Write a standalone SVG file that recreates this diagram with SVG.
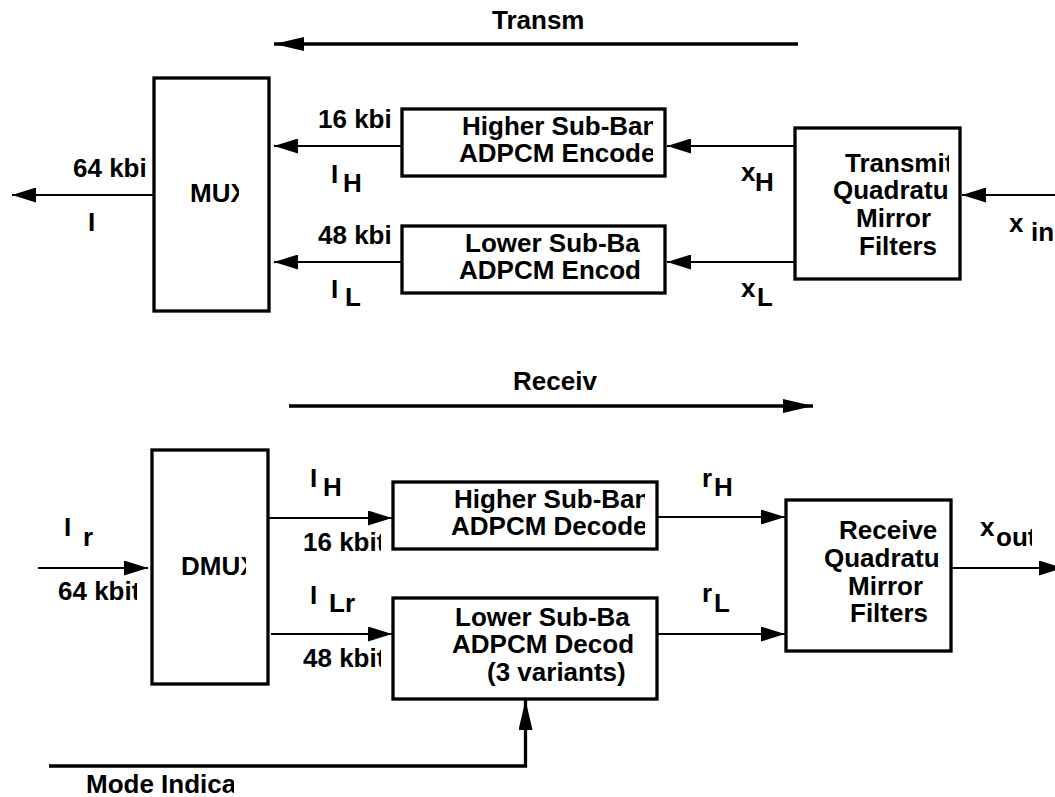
<svg xmlns="http://www.w3.org/2000/svg" width="1055" height="797" viewBox="0 0 1055 797">
<style>
.box{fill:none;stroke:#000;stroke-width:3.3}
.t{font-family:"Liberation Sans",Arial,Helvetica,sans-serif;font-weight:bold;font-size:26px;fill:#000}
.thin{stroke:#000;stroke-width:2;fill:none}
.thick{stroke:#000;stroke-width:3.3;fill:none}
</style>
<defs>
<marker id="ah" markerUnits="userSpaceOnUse" markerWidth="24" markerHeight="15" viewBox="0 0 24 15" refX="24" refY="7.5" orient="auto"><path d="M0,0 L24,7.5 L0,15 Z" fill="#000"/></marker>
<marker id="ahT" markerUnits="userSpaceOnUse" markerWidth="30" markerHeight="14" viewBox="0 0 30 14" refX="30" refY="7" orient="auto"><path d="M0,0 L30,7 L0,14 Z" fill="#000"/></marker>
<clipPath id="cMUX"><rect x="0" y="0" width="239" height="797"/></clipPath>
<clipPath id="cEncH"><rect x="0" y="0" width="653" height="797"/></clipPath>
<clipPath id="cEncL"><rect x="0" y="0" width="643" height="797"/></clipPath>
<clipPath id="cTQMF"><rect x="0" y="0" width="949" height="797"/></clipPath>
<clipPath id="cDMUX"><rect x="0" y="0" width="246" height="797"/></clipPath>
<clipPath id="c64"><rect x="0" y="0" width="137" height="797"/></clipPath>
<clipPath id="c16"><rect x="0" y="0" width="381" height="797"/></clipPath>
<clipPath id="cDecH"><rect x="0" y="0" width="645" height="797"/></clipPath>
<clipPath id="cDecL"><rect x="0" y="0" width="633" height="797"/></clipPath>
<clipPath id="cRQMF"><rect x="0" y="0" width="940" height="797"/></clipPath>
<clipPath id="cXout"><rect x="0" y="0" width="1032" height="797"/></clipPath>
<clipPath id="cMode"><rect x="0" y="0" width="234" height="797"/></clipPath>
</defs>

<g id="connectors">
<path class="thick" d="M798,44 L274,44" marker-end="url(#ahT)"/>
<path class="thin" d="M154,195 L12,195" marker-end="url(#ah)"/>
<path class="thin" d="M402,146 L274,146" marker-end="url(#ah)"/>
<path class="thin" d="M402,262 L274,262" marker-end="url(#ah)"/>
<path class="thin" d="M795,146 L667,146" marker-end="url(#ah)"/>
<path class="thin" d="M795,262 L667,262" marker-end="url(#ah)"/>
<path class="thin" d="M1055,195 L962,195" marker-end="url(#ah)"/>
<path class="thick" d="M289,406 L813,406" marker-end="url(#ahT)"/>
<path class="thin" d="M38,568 L148,568" marker-end="url(#ah)"/>
<path class="thin" d="M269,518 L392,518" marker-end="url(#ah)"/>
<path class="thin" d="M271,634 L392,634" marker-end="url(#ah)"/>
<path class="thin" d="M657,517 L785,517" marker-end="url(#ah)"/>
<path class="thin" d="M657,634 L785,634" marker-end="url(#ah)"/>
<path class="thin" d="M951,568 L1063,568" marker-end="url(#ah)"/>
<path class="thick" d="M49,766 L525.5,766 L525.5,700" marker-end="url(#ahT)"/>
</g>

<g id="labels">
<text class="t" x="492" y="29">Transm</text>
<text class="t" x="73" y="177">64 kbi</text>
<text class="t" x="88" y="231">I</text>
<text class="t" x="318" y="128">16 kbi</text>
<text class="t"><tspan x="331" y="183">I</tspan><tspan x="343" y="192">H</tspan></text>
<text class="t" x="318" y="244">48 kbi</text>
<text class="t"><tspan x="331" y="298">I</tspan><tspan x="345" y="306">L</tspan></text>
<text class="t"><tspan x="741" y="181">x</tspan><tspan x="755" y="191">H</tspan></text>
<text class="t"><tspan x="741" y="297">x</tspan><tspan x="757" y="306">L</tspan></text>
<text class="t"><tspan x="1009" y="232">x</tspan><tspan x="1031" y="241">in</tspan></text>
<text class="t" x="513" y="390">Receiv</text>
<text class="t"><tspan x="64" y="536">I</tspan><tspan x="83" y="546">r</tspan></text>
<text class="t" x="58" y="600" clip-path="url(#c64)">64 kbit</text>
<text class="t"><tspan x="310" y="487">I</tspan><tspan x="323" y="496">H</tspan></text>
<text class="t" x="303" y="551" clip-path="url(#c16)">16 kbit</text>
<text class="t"><tspan x="310" y="604">I</tspan><tspan x="329" y="612">Lr</tspan></text>
<text class="t" x="303" y="667" clip-path="url(#c16)">48 kbit</text>
<text class="t"><tspan x="702" y="487">r</tspan><tspan x="714" y="496">H</tspan></text>
<text class="t"><tspan x="702" y="602">r</tspan><tspan x="714" y="612">L</tspan></text>
<text class="t" clip-path="url(#cXout)"><tspan x="980" y="536">x</tspan><tspan x="996" y="546">out</tspan></text>
<text class="t" x="86" y="793" clip-path="url(#cMode)">Mode Indica</text>
</g>

<g id="mux">
<rect class="box" x="154" y="78" width="115" height="233"/>
<text class="t" x="190" y="202" clip-path="url(#cMUX)">MUX</text>
</g>
<g id="enc-high">
<rect class="box" x="402" y="109" width="263" height="67"/>
<g clip-path="url(#cEncH)">
<text class="t" x="462" y="135">Higher Sub-Ban</text>
<text class="t" x="459" y="162">ADPCM Encode</text>
</g>
</g>
<g id="enc-low">
<rect class="box" x="402" y="226" width="263" height="67"/>
<g clip-path="url(#cEncL)">
<text class="t" x="465" y="252">Lower Sub-Ba</text>
<text class="t" x="459" y="279">ADPCM Encod</text>
</g>
</g>
<g id="tqmf">
<rect class="box" x="795" y="128" width="165" height="151"/>
<g clip-path="url(#cTQMF)">
<text class="t" x="845" y="172">Transmit</text>
<text class="t" x="833" y="199">Quadratu</text>
<text class="t" x="856" y="227">Mirror</text>
<text class="t" x="859" y="255">Filters</text>
</g>
</g>
<g id="dmux">
<rect class="box" x="152" y="450" width="116" height="234"/>
<text class="t" x="181" y="575" clip-path="url(#cDMUX)">DMUX</text>
</g>
<g id="dec-high">
<rect class="box" x="393" y="482" width="264" height="67"/>
<g clip-path="url(#cDecH)">
<text class="t" x="454" y="508">Higher Sub-Ban</text>
<text class="t" x="451" y="535">ADPCM Decode</text>
</g>
</g>
<g id="dec-low">
<rect class="box" x="393" y="598" width="264" height="101"/>
<g clip-path="url(#cDecL)">
<text class="t" x="455" y="626">Lower Sub-Ba</text>
<text class="t" x="452" y="653">ADPCM Decod</text>
<text class="t" x="487" y="681">(3 variants)</text>
</g>
</g>
<g id="rqmf">
<rect class="box" x="786" y="500" width="165" height="151"/>
<g clip-path="url(#cRQMF)">
<text class="t" x="839" y="539">Receive</text>
<text class="t" x="824" y="567">Quadratu</text>
<text class="t" x="848" y="595">Mirror</text>
<text class="t" x="850" y="622">Filters</text>
</g>
</g>
</svg>
